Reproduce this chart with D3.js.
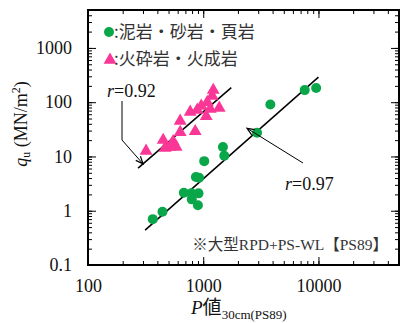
<!DOCTYPE html>
<html>
<head>
<meta charset="utf-8">
<script src="https://cdn.jsdelivr.net/npm/d3@7"></script>
<style>
  body { margin: 0; background: #fff; }
  svg { display: block; }
</style>
</head>
<body>
<div id="chart"></div>
<script>
// data
const sedimentaryP = [365, 443, 679, 790, 910, 795, 899, 864, 920, 1020, 1483, 1523, 2931, 3825, 7600, 9550];
const sedimentaryQ = [0.70, 0.96, 2.15, 2.09, 2.09, 1.62, 1.26, 4.2, 4.05, 8.2, 14.9, 10.3, 27.3, 91, 167, 182];
const volcanicP = [1222, 1197, 1084, 961, 1377, 771, 887, 1062, 631, 852, 631, 449, 548, 467, 516, 582, 319, 1150];
const volcanicQ = [167, 130, 100, 85, 78, 66, 72, 55, 45, 29, 28, 20, 19, 14.3, 15, 15, 12.6, 75];
const sedimentaryFitP = [313, 10000];
const sedimentaryFitQ = [0.44, 290];
const volcanicFitP = [272, 1752];
const volcanicFitQ = [6.1, 186];
const xTickLabels = [100, 1000, 10000];
const yTickLabels = [0.1, 1, 10, 100, 1000];
const legendLabels = [":泥岩・砂岩・頁岩", ":火砕岩・火成岩"];

// set the dimensions and margins of the graph
const width = 401;
const height = 323;
const plotLeft = 88, plotRight = 399, plotTop = 10, plotBottom = 265;

const svg = d3.select("#chart")
    .append("svg")
    .attr("width", width)
    .attr("height", height);

const x = d3.scaleLog().domain([100, 50000]).range([plotLeft, plotRight]);
const y = d3.scaleLog().domain([0.1, 5000]).range([plotBottom, plotTop]);

const green = "#0aa64a";
const pink = "#fa3797";
const serif = "'Liberation Serif', 'Times New Roman', serif";
const cjk = "'Liberation Serif', 'Noto Sans CJK JP', serif";

// minor + major ticks, pointing inward, on all four sides
function drawAxis(axisFn, scale, pos, size, values, labels, padding) {
    const a = axisFn(scale).tickValues(values).tickSize(size).tickPadding(padding);
    a.tickFormat(labels ? (d => d3.format("~g")(d)) : "");
    const g = svg.append("g").attr("transform", pos).call(a);
    g.select(".domain").remove();
    g.selectAll("line").attr("stroke", "#000").attr("stroke-width", 1);
    g.selectAll("text").attr("font-family", serif).attr("font-size", 18).attr("fill", "#111");
    return g;
}
const xMinor = x.ticks();
const yMinor = y.ticks();
drawAxis(d3.axisBottom, x, `translate(0,${plotBottom})`, -4, xMinor, false, 0);
drawAxis(d3.axisBottom, x, `translate(0,${plotBottom})`, -8, xTickLabels, true, 14);
drawAxis(d3.axisTop, x, `translate(0,${plotTop})`, -4, xMinor, false, 0);
drawAxis(d3.axisTop, x, `translate(0,${plotTop})`, -8, xTickLabels, false, 0);
drawAxis(d3.axisLeft, y, `translate(${plotLeft},0)`, -4, yMinor, false, 0);
drawAxis(d3.axisLeft, y, `translate(${plotLeft},0)`, -8, yTickLabels, true, 16);
drawAxis(d3.axisRight, y, `translate(${plotRight},0)`, -4, yMinor, false, 0);
drawAxis(d3.axisRight, y, `translate(${plotRight},0)`, -8, yTickLabels, false, 0);

// frame
svg.append("rect")
    .attr("x", plotLeft).attr("y", plotTop)
    .attr("width", plotRight - plotLeft).attr("height", plotBottom - plotTop)
    .attr("fill", "none").attr("stroke", "#000").attr("stroke-width", 2);

// regression lines
const line = d3.line().x(d => x(d[0])).y(d => y(d[1]));
svg.append("path")
    .attr("d", line(d3.zip(sedimentaryFitP, sedimentaryFitQ)))
    .attr("stroke", "#000").attr("stroke-width", 1.5).attr("fill", "none");
svg.append("path")
    .attr("d", line(d3.zip(volcanicFitP, volcanicFitQ)))
    .attr("stroke", "#000").attr("stroke-width", 1.5).attr("fill", "none");

// points
const tri = d3.symbol().type(d3.symbolTriangle).size(72);
svg.append("g").selectAll("path")
    .data(d3.zip(volcanicP, volcanicQ))
    .enter().append("path")
    .attr("d", tri)
    .attr("transform", d => `translate(${x(d[0])},${y(d[1])})`)
    .attr("fill", pink);
svg.append("g").selectAll("circle")
    .data(d3.zip(sedimentaryP, sedimentaryQ))
    .enter().append("circle")
    .attr("cx", d => x(d[0])).attr("cy", d => y(d[1]))
    .attr("r", 5)
    .attr("fill", green);

// legend
svg.append("circle").attr("cx", 109).attr("cy", 32).attr("r", 5).attr("fill", green);
svg.append("path").attr("d", tri).attr("transform", "translate(110,60)").attr("fill", pink);
svg.selectAll(".leg").data(legendLabels).enter().append("text")
    .attr("x", 114).attr("y", (d, i) => 38 + i * 27)
    .attr("font-family", "'Noto Sans CJK JP', sans-serif")
    .attr("font-size", 17).attr("fill", "#333")
    .text(d => d);

// arrow heads
function arrowHead(tx, ty, fx, fy) {
    const ang = Math.atan2(ty - fy, tx - fx);
    const L = 8, w = 0.4;
    const p1 = [tx - L * Math.cos(ang - w), ty - L * Math.sin(ang - w)];
    const p2 = [tx - L * Math.cos(ang + w), ty - L * Math.sin(ang + w)];
    svg.append("path")
        .attr("d", `M${p1[0]},${p1[1]}L${tx},${ty}L${p2[0]},${p2[1]}`)
        .attr("stroke", "#000").attr("stroke-width", 1.2).attr("fill", "none");
}

// r=0.92 annotation
const tip1 = [x(300), y(7.3)];
svg.append("path")
    .attr("d", `M122,101L122,140L${tip1[0]},${tip1[1]}`)
    .attr("stroke", "#000").attr("stroke-width", 1).attr("fill", "none");
arrowHead(tip1[0], tip1[1], 122, 140);
const t1 = svg.append("text").attr("x", 107).attr("y", 97)
    .attr("font-family", serif).attr("font-size", 18).attr("fill", "#111");
t1.append("tspan").attr("font-style", "italic").text("r");
t1.append("tspan").text("=0.92");

// r=0.97 annotation
const tip2 = [x(2400), y(33)];
svg.append("path")
    .attr("d", `M303,163L${tip2[0]},${tip2[1]}`)
    .attr("stroke", "#000").attr("stroke-width", 1).attr("fill", "none");
arrowHead(tip2[0], tip2[1], 303, 163);
const t2 = svg.append("text").attr("x", 285).attr("y", 190)
    .attr("font-family", serif).attr("font-size", 18).attr("fill", "#111");
t2.append("tspan").attr("font-style", "italic").text("r");
t2.append("tspan").text("=0.97");

// note
svg.append("text")
    .attr("x", 388).attr("y", 250).attr("text-anchor", "end")
    .attr("font-family", cjk).attr("font-size", 15.5).attr("fill", "#333")
    .text("※大型RPD+PS-WL【PS89】");

// axis titles
const xt = svg.append("text").attr("x", 191).attr("y", 314)
    .attr("font-family", cjk).attr("font-size", 19).attr("fill", "#111");
xt.append("tspan").attr("font-style", "italic").attr("font-family", serif).text("P");
xt.append("tspan").text("値");
xt.append("tspan").attr("font-size", 13).attr("dy", 5).text("30cm(PS89)");

const yt = svg.append("text")
    .attr("transform", "translate(27,124) rotate(-90)")
    .attr("text-anchor", "middle")
    .attr("font-family", serif).attr("font-size", 18).attr("fill", "#111");
yt.append("tspan").attr("font-style", "italic").text("q");
yt.append("tspan").attr("font-size", 12).attr("dy", 3).text("u");
yt.append("tspan").attr("dy", -3).text(" (MN/m");
yt.append("tspan").attr("font-size", 12).attr("dy", -7).text("2");
yt.append("tspan").attr("dy", 7).text(")");
</script>
</body>
</html>
